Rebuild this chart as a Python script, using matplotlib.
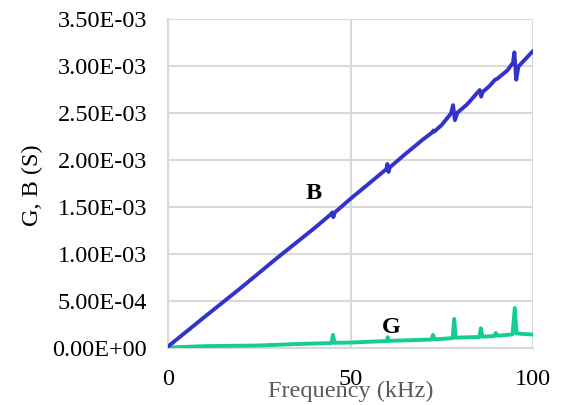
import matplotlib
matplotlib.use("Agg")
import matplotlib.pyplot as plt

plt.rcParams['font.family'] = ['Liberation Serif', 'DejaVu Serif']

# Susceptance B (S) versus frequency (kHz)
freq_b = [0, 10, 20, 30, 40, 44.6, 45.0, 45.3, 45.7, 50, 55, 59.8, 60.1, 60.4, 60.8,
          65, 70, 72.4, 72.7, 73.0, 75, 77.5, 78.1, 78.6, 79.3, 82, 85.4, 85.8, 86.2,
          88, 89.6, 90.2, 93, 94.5, 94.9, 95.4, 96.0, 100]
b_vals = [1.6e-5, 3.3e-4, 6.4e-4, 9.6e-4, 1.27e-3, 1.42e-3, 1.44e-3, 1.39e-3, 1.44e-3,
          1.585e-3, 1.745e-3, 1.90e-3, 1.955e-3, 1.87e-3, 1.92e-3,
          2.06e-3, 2.22e-3, 2.29e-3, 2.31e-3, 2.30e-3, 2.37e-3, 2.49e-3, 2.58e-3, 2.42e-3,
          2.50e-3, 2.59e-3, 2.74e-3, 2.67e-3, 2.72e-3, 2.78e-3, 2.85e-3, 2.86e-3,
          2.95e-3, 3.03e-3, 3.14e-3, 2.85e-3, 2.99e-3, 3.155e-3]

# Conductance G (S) versus frequency (kHz)
freq_g = [0, 10, 25, 35, 44.8, 45.2, 45.6, 50, 59.9, 60.2, 60.5, 68, 72.2, 72.6, 73.0,
          78.0, 78.4, 78.8, 85.3, 85.7, 86.1, 89.4, 89.8, 90.3, 94.4, 95.0, 95.5,
          97, 100]
g_vals = [5e-6, 2.0e-5, 2.7e-5, 4.2e-5, 5.3e-5, 1.40e-4, 5.5e-5, 5.8e-5, 7.4e-5,
          1.15e-4, 7.6e-5, 8.5e-5, 9.0e-5, 1.40e-4, 9.2e-5, 1.05e-4, 3.10e-4, 1.10e-4,
          1.17e-4, 2.10e-4, 1.20e-4, 1.27e-4, 1.60e-4, 1.30e-4, 1.45e-4, 4.25e-4,
          1.55e-4, 1.50e-4, 1.43e-4]

y_ticks = [0, 5e-4, 1e-3, 1.5e-3, 2e-3, 2.5e-3, 3e-3, 3.5e-3]
y_tick_labels = ['0.00E+00', '5.00E-04', '1.00E-03', '1.50E-03',
                 '2.00E-03', '2.50E-03', '3.00E-03', '3.50E-03']
x_ticks = [0, 50, 100]
x_tick_labels = ['0', '50', '100']

FS = 17.5
grid_c = '#D9D9D9'

fig = plt.figure(figsize=(5.68, 4.05), dpi=100)
ax = fig.add_axes([0.2958, 0.1407, 0.6426, 0.8136])

ax.plot(freq_g, g_vals, color='#14CC96', lw=2.8, solid_joinstyle='round',
        solid_capstyle='round', zorder=3)
ax.plot(freq_b, b_vals, color='#3333CC', lw=2.8, solid_joinstyle='round',
        solid_capstyle='round', zorder=4)

ax.set_xlim(0, 100)
ax.set_ylim(0, 3.5e-3)
ax.set_yticks(y_ticks)
ax.set_yticklabels(y_tick_labels)
ax.set_xticks(x_ticks)
ax.set_xticklabels(x_tick_labels)
ax.tick_params(axis='both', length=0, labelsize=FS, colors='black')
ax.tick_params(axis='y', pad=15)
ax.tick_params(axis='x', pad=15)

ax.grid(True, color=grid_c, lw=1.5, zorder=0)
ax.set_axisbelow(True)
for side in ['top', 'right']:
    ax.spines[side].set_visible(False)
for side in ['left', 'bottom']:
    ax.spines[side].set_color(grid_c)
    ax.spines[side].set_linewidth(1.5)

fig.text(32 / 568, 1 - 185 / 405, 'G, B (S)', fontsize=FS, color='black',
         rotation=90, ha='center', va='center')
fig.text(0.617, 1 - 391 / 405, 'Frequency (kHz)', fontsize=FS, color='#595959',
         ha='center', va='center')

ax.text(40.0, 1.64e-3, 'B', fontsize=FS, fontweight='bold', ha='center', va='center')
ax.text(61.3, 2.2e-4, 'G', fontsize=FS, fontweight='bold', ha='center', va='center')

fig.savefig('out.png', dpi=100)
